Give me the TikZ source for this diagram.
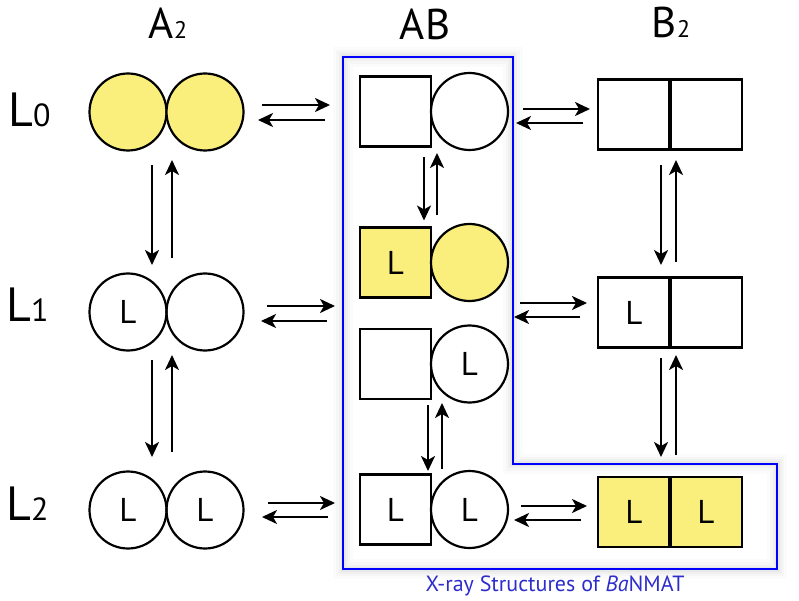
\documentclass[tikz,border=0pt]{standalone}
\usepackage{fontspec}
\setmainfont{PT Sans}
\usetikzlibrary{arrows.meta,calc}
\definecolor{ylw}{RGB}{250,239,125}
\definecolor{capblue}{RGB}{45,45,205}
\definecolor{bord}{RGB}{0,0,255}
\tikzset{
  shp/.style={draw=black, line width=2.2pt, inner sep=0pt, outer sep=0pt, font=\fontsize{33}{33}\selectfont},
  circ/.style={shp, circle, minimum size=77pt},
  sq/.style={shp, rectangle, minimum width=71pt, minimum height=70pt},
  half/.style={shp, rectangle, minimum width=72pt, minimum height=70pt},
  yf/.style={fill=ylw},
  arr/.style={-{Stealth[length=15pt,width=14pt,inset=4pt]}, line width=2.2pt},
  mid/.style={line width=4.5pt},
  coltitle/.style={inner sep=0pt, font=\fontsize{43}{43}\selectfont},
  rowlab/.style={inner sep=0pt, font=\fontsize{48}{48}\selectfont},
}
\newcommand{\csub}[1]{{\fontsize{24}{24}\selectfont #1}}
\newcommand{\rsub}[1]{{\fontsize{32}{32}\selectfont #1}}
\begin{document}
\begin{tikzpicture}[x=1pt,y=-1pt]
\useasboundingbox (0,0) rectangle (799,601);
\fill[white] (0,0) rectangle (799,601);

% glow of the blue region
\foreach \w/\o in {20/0.015, 14/0.02, 9/0.025, 5/0.03, 2/0.04}{
  \draw[black, opacity=\o, line width=\w pt, line join=miter]
    (343,57) -- (512.5,57) -- (512.5,463.5) -- (777,463.5) -- (777,569) -- (343,569) -- cycle;
}
\draw[bord, line width=2pt, line join=miter]
    (343,57) -- (512.5,57) -- (512.5,463.5) -- (777,463.5) -- (777,569) -- (343,569) -- cycle;

% titles
\node[coltitle, anchor=base] (tA) at (168,39) {A\csub{2}};
\node[coltitle, anchor=base] (tAB) at (425,40) {AB};
\node[coltitle, anchor=base] (tB) at (671,38) {B\csub{2}};
\node[rowlab, anchor=base west] (r0) at (8,127) {L\rsub{0}};
\node[rowlab, anchor=base west] (r1) at (6,321) {L\rsub{1}};
\node[rowlab, anchor=base west] (r2) at (6,520) {L\rsub{2}};

% A2 column
\node[circ, yf] (a0l) at (128,112) {};
\node[circ, yf] (a0r) at (205,112) {};
\node[circ] (a1l) at (128,312) {L};
\node[circ] (a1r) at (205,312) {};
\node[circ] (a2l) at (128,510) {L};
\node[circ] (a2r) at (205,510) {L};

% AB column
\node[sq] (s0) at (395.5,111.5) {};
\node[circ] (c0) at (469.5,111.5) {};
\node[sq, yf] (s1) at (395.5,262.5) {L};
\node[circ, yf] (c1) at (469.5,262.5) {};
\node[sq] (s2) at (395.5,364) {};
\node[circ] (c2) at (469.5,364) {L};
\node[sq] (s3) at (395.5,509.5) {L};
\node[circ] (c3) at (469.5,509.5) {L};

% B2 column
\node[half] (b0l) at (634,114.5) {};
\node[half] (b0r) at (706,114.5) {};
\node[half] (b1l) at (634,312.5) {L};
\node[half] (b1r) at (706,312.5) {};
\node[half, yf] (b2l) at (634,512) {L};
\node[half, yf] (b2r) at (706,512) {L};
\draw[mid] (b0l.north east) -- (b0l.south east);
\draw[mid] (b1l.north east) -- (b1l.south east);
\draw[mid] (b2l.north east) -- (b2l.south east);

% horizontal arrows A2 <-> AB
\draw[arr] ($(a0r.east)+(18.5,-7)$) -- ($(s0.west)+(-30,-6.5)$);
\draw[arr] ($(s0.west)+(-35,8.5)$) -- ($(a0r.east)+(14.5,8)$);
\draw[arr] ($(a1r.east)+(23.5,-6)$) -- ($(a1r.east)+(91.5,-6)$);
\draw[arr] ($(a1r.east)+(83.5,9)$) -- ($(a1r.east)+(17.5,9)$);
\draw[arr] ($(a2r.east)+(24.5,-7)$) -- ($(s3.west)+(-25,-6.5)$);
\draw[arr] ($(s3.west)+(-32,7.5)$) -- ($(a2r.east)+(18.5,7)$);

% horizontal arrows AB <-> B2
\draw[arr] ($(c0.east)+(15,-2.5)$) -- ($(b0l.west)+(-8,-5.5)$);
\draw[arr] ($(b0l.west)+(-15,8.5)$) -- ($(c0.east)+(8,11.5)$);
\draw[arr] ($(b1l.west)+(-78,-9.5)$) -- ($(b1l.west)+(-11,-9.5)$);
\draw[arr] ($(b1l.west)+(-18,4.5)$) -- ($(b1l.west)+(-84,4.5)$);
\draw[arr] ($(c3.east)+(13,-3.5)$) -- ($(b2l.west)+(-11,-6)$);
\draw[arr] ($(b2l.west)+(-17,8)$) -- ($(c3.east)+(6,10.5)$);

% vertical arrows A2
\draw[arr] ($(a0l.south)+(24,14.5)$) -- ($(a1l.north)+(24,-8.5)$);
\draw[arr] ($(a1r.north)+(-33,-15.5)$) -- ($(a0r.south)+(-33,9.5)$);
\draw[arr] ($(a1l.south)+(24,9.5)$) -- ($(a2l.north)+(24,-14.5)$);
\draw[arr] ($(a2r.north)+(-33,-19.5)$) -- ($(a1r.south)+(-33,4.5)$);

% vertical arrows AB
\draw[arr] ($(s0.south)+(28.5,11)$) -- ($(s1.north)+(28.5,-7)$);
\draw[arr] ($(s1.north)+(41.5,-12.5)$) -- ($(s0.south)+(41.5,6.5)$);
\draw[arr] ($(s2.south)+(32.5,6)$) -- ($(s3.north)+(32.5,-3.5)$);
\draw[arr] ($(s3.north)+(46.5,-5.5)$) -- ($(s2.south)+(46.5,4)$);

% vertical arrows B2
\draw[arr] ($(b0l.south east)+(-9,15.5)$) -- ($(b1l.north east)+(-9,-12.5)$);
\draw[arr] ($(b1l.north east)+(6,-15.5)$) -- ($(b0l.south east)+(6,10.5)$);
\draw[arr] ($(b1l.south east)+(-9,10.5)$) -- ($(b2l.north east)+(-9,-20)$);
\draw[arr] ($(b2l.north east)+(6,-22)$) -- ($(b1l.south east)+(6,7.5)$);

% caption
\node[text=capblue, inner sep=0pt, font=\fontsize{22}{22}\selectfont] (cap) at (555,586) {X-ray Structures of \textit{Ba}NMAT};
\end{tikzpicture}
\end{document}
